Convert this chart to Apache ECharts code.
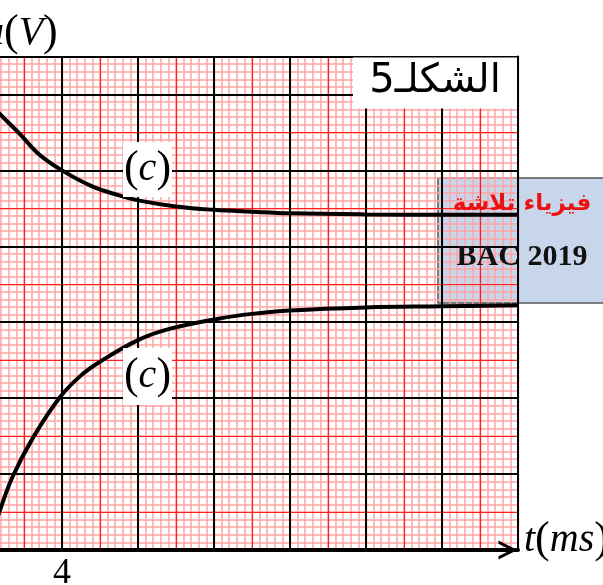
<!DOCTYPE html>
<html>
<head>
<meta charset="utf-8">
<script src="https://cdn.jsdelivr.net/npm/echarts@6/dist/echarts.min.js"></script>
<style>
  html, body { margin: 0; padding: 0; background: #fff; }
  #chart { width: 603px; height: 585px; }
</style>
</head>
<body>
<div id="chart"></div>
<script>
// Axis ranges: t in ms (2 ms per cm of paper), u in V (1 V per cm)
const tMax = 28;
const uMax = 13;
const labeledTicks = [4];

// Decreasing curve (c)
const tFalling = [0, 0.7, 1.8, 2.8, 4, 5.5, 7, 8, 10, 12, 14, 16, 20, 24, 28];
const uFalling = [11.9, 11.5, 10.95, 10.42, 10.0, 9.6, 9.34, 9.21, 9.05, 8.96, 8.91, 8.87, 8.84, 8.83, 8.83];

// Rising curve (c)
const tRising = [0, 0.7, 1.4, 2.5, 3.9, 5, 6, 8, 9.7, 12.3, 14, 16, 20, 24, 28];
const uRising = [0, 1.0, 1.93, 2.98, 4.03, 4.6, 4.96, 5.53, 5.83, 6.1, 6.22, 6.31, 6.39, 6.42, 6.45];

const PINK = '#ffa3a3';
const RED = '#ff1f1f';
const BLACK = '#000';
const CHEVRON = 'path://M0,20 L10,0 L20,20 L16.5,20 L10,7 L3.5,20 Z';

const zip = (xs, ys) => xs.map((x, i) => [x, ys[i]]);

// Bare value axis; each paper-grid layer (2 mm, 1 cm, 2 cm) gets its own
function paperAxis(extra) {
  return Object.assign({
    type: 'value',
    min: 0,
    axisLine: { show: false, onZero: false },
    axisTick: { show: false },
    axisLabel: { show: false },
    splitLine: { show: false }
  }, extra);
}

const chart = echarts.init(document.getElementById('chart'), null, { renderer: 'canvas' });

const serifRich = {
  p: { fontFamily: 'Liberation Serif', fontSize: 44, color: '#000' },
  i: { fontFamily: 'Liberation Serif', fontStyle: 'italic', fontSize: 40, color: '#000' }
};

chart.setOption({
  backgroundColor: '#fff',
  animation: false,
  grid: { left: -14, right: 85, top: 56.5, bottom: 35, containLabel: false, outerBoundsMode: 'none' },
  xAxis: [
    paperAxis({ position: 'bottom', max: tMax, interval: 0.4, z: 0,
      splitLine: { show: true, lineStyle: { color: PINK, width: 1.5 } } }),
    paperAxis({ position: 'bottom', max: tMax, interval: 2, z: 1,
      splitLine: { show: true, lineStyle: { color: RED, width: 1.2 } } }),
    paperAxis({ position: 'bottom', max: tMax, interval: 4, z: 3,
      splitLine: { show: true, lineStyle: { color: BLACK, width: 2 } },
      axisLine: { show: true, onZero: false, lineStyle: { color: BLACK, width: 4 },
        symbol: ['none', CHEVRON], symbolSize: [19, 20], symbolOffset: [0, -10] },
      axisLabel: { show: true, margin: 6, color: '#000', fontFamily: 'Liberation Serif', fontSize: 36,
        formatter: v => (labeledTicks.indexOf(v) >= 0 ? String(v) : '') } }),
    paperAxis({ position: 'top', max: tMax, interval: 4, z: 4,
      axisLine: { show: true, onZero: false, lineStyle: { color: BLACK, width: 2 } } })
  ],
  yAxis: [
    paperAxis({ position: 'left', max: uMax, interval: 0.2, z: 0,
      splitLine: { show: true, lineStyle: { color: PINK, width: 1.5 } } }),
    paperAxis({ position: 'left', max: uMax, interval: 1, z: 1,
      splitLine: { show: true, lineStyle: { color: RED, width: 1.2 } } }),
    paperAxis({ position: 'left', max: uMax, interval: 2, z: 3,
      splitLine: { show: true, lineStyle: { color: BLACK, width: 2 } } }),
    paperAxis({ position: 'right', max: uMax, interval: 1, z: 4,
      axisLine: { show: true, onZero: false, lineStyle: { color: BLACK, width: 2 } } })
  ],
  series: [
    {
      type: 'line', xAxisIndex: 2, yAxisIndex: 2, z: 10, silent: true,
      data: zip(tFalling, uFalling),
      smooth: 0.4, showSymbol: false, symbol: 'none',
      lineStyle: { color: BLACK, width: 4 }
    },
    {
      type: 'line', xAxisIndex: 2, yAxisIndex: 2, z: 10, silent: true,
      data: zip(tRising, uRising),
      smooth: 0.4, showSymbol: false, symbol: 'none',
      lineStyle: { color: BLACK, width: 4 }
    }
  ],
  graphic: {
    elements: [
      // stamp box behind the paper grid
      { type: 'rect', z: -1, silent: true,
        shape: { x: 438, y: 178, width: 180, height: 125 },
        style: { fill: '#c7d6eb', stroke: '#555', lineWidth: 1.5 } },
      { type: 'text', z: 30, silent: true, x: 522, y: 204,
        style: { text: 'فيزياء تلاشة', fill: '#ee1111', font: 'bold 23px "DejaVu Sans"',
          align: 'center', verticalAlign: 'middle' } },
      { type: 'text', z: 30, silent: true, x: 522, y: 257,
        style: { text: 'BAC 2019', fill: '#111', font: 'bold 30px "Liberation Serif"',
          align: 'center', verticalAlign: 'middle' } },

      // figure caption
      { type: 'rect', z: 20, silent: true,
        shape: { x: 353, y: 57.5, width: 164, height: 51 }, style: { fill: '#fff' } },
      { type: 'text', z: 21, silent: true, x: 435, y: 82,
        style: { text: 'الشكلـ5', fill: '#000', font: '40px "DejaVu Sans"',
          align: 'center', verticalAlign: 'middle' } },

      // curve tags
      { type: 'rect', z: 20, silent: true,
        shape: { x: 123, y: 142, width: 49, height: 55 }, style: { fill: '#fff' } },
      { type: 'text', z: 21, silent: true, x: 147.5, y: 169,
        style: { text: '{p|(}{i|c}{p|)}', rich: serifRich, align: 'center', verticalAlign: 'middle' } },
      { type: 'rect', z: 20, silent: true,
        shape: { x: 123, y: 348, width: 49, height: 57 }, style: { fill: '#fff' } },
      { type: 'text', z: 21, silent: true, x: 147.5, y: 376,
        style: { text: '{p|(}{i|c}{p|)}', rich: serifRich, align: 'center', verticalAlign: 'middle' } },

      // axis names
      { type: 'text', z: 21, silent: true, x: -16, y: 33,
        style: { text: '{i|u}{p|(}{i|V}{p|)}', rich: serifRich, align: 'left', verticalAlign: 'middle' } },
      { type: 'text', z: 21, silent: true, x: 524, y: 540,
        style: { text: '{i|t}{p|(}{i|ms}{p|)}', rich: serifRich, align: 'left', verticalAlign: 'middle' } }
    ]
  }
});
</script>
</body>
</html>
